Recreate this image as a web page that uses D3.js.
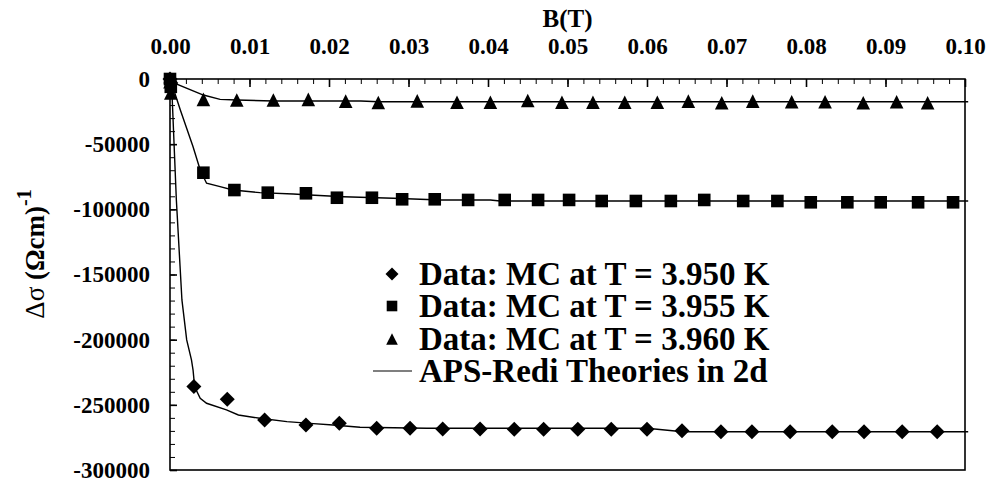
<!DOCTYPE html>
<html>
  <head>
    <title> MC at T near Tc </title>
    <script src = "https://d3js.org/d3.v7.min.js" charset = "utf-8"></script>
    <style>
      body { margin: 0; background: #fff; }
      text { font-family: "Liberation Serif", "Times New Roman", serif; font-weight: bold; }
    </style>
  </head>

  <body>
    <script>
      // data: B in tesla, delta sigma in (ohm cm)^-1
      var diamondB   = [0, 0.0001, 0.0030, 0.0072, 0.0119, 0.0171, 0.0213, 0.0260, 0.0302, 0.0343, 0.0390, 0.0433, 0.0470, 0.0513, 0.0555, 0.0600, 0.0644, 0.0693, 0.0732, 0.0780, 0.0833, 0.0873, 0.0921, 0.0965];
      var diamondVal = [0, -3000, -236000, -245800, -261600, -265500, -264200, -268000, -268000, -268500, -268500, -268800, -268800, -268800, -268800, -268800, -269800, -270600, -270600, -270600, -270600, -270600, -270600, -270600];

      var squareB   = [0, 0.0001, 0.0042, 0.0081, 0.0123, 0.0171, 0.0210, 0.0254, 0.0292, 0.0333, 0.0375, 0.0421, 0.0463, 0.0502, 0.0543, 0.0586, 0.0630, 0.0672, 0.0721, 0.0764, 0.0806, 0.0852, 0.0894, 0.0941, 0.0985];
      var squareVal = [0, -6000, -71900, -85200, -87200, -87700, -91100, -91100, -92300, -92300, -92800, -92800, -92800, -92800, -93600, -93600, -93600, -92800, -93600, -93600, -94600, -94600, -94600, -94600, -94600];

      var triangleB   = [0, 0.0001, 0.0042, 0.0084, 0.0130, 0.0174, 0.0221, 0.0262, 0.0311, 0.0361, 0.0403, 0.0450, 0.0493, 0.0532, 0.0572, 0.0613, 0.0652, 0.0694, 0.0733, 0.0782, 0.0824, 0.0872, 0.0914, 0.0953];
      var triangleVal = [-2000, -10700, -15600, -16100, -16100, -15600, -17000, -18000, -16800, -17800, -17800, -16500, -17800, -17800, -17800, -17800, -17000, -18200, -17000, -17400, -17400, -18200, -17400, -18200];

      // APS-Redi theory curves
      var theoryDiamondB   = [0, 0.0002, 0.0008, 0.0015, 0.0021, 0.0027, 0.0029, 0.0031, 0.0038, 0.0046, 0.0071, 0.0086, 0.0113, 0.0147, 0.0176, 0.0205, 0.0239, 0.0323, 0.0600, 0.0645, 0.1004];
      var theoryDiamondVal = [0, -3300, -92800, -169500, -200200, -215500, -223300, -236100, -245000, -248800, -253900, -257800, -260300, -262900, -264200, -265500, -267200, -268000, -268000, -270600, -270600];

      var theorySquareB   = [0, 0.0002, 0.0013, 0.0029, 0.0038, 0.0046, 0.0063, 0.0079, 0.0113, 0.0155, 0.0176, 0.0218, 0.0281, 0.0340, 0.0403, 0.0415, 0.1004];
      var theorySquareVal = [0, -3300, -23800, -52000, -69800, -80000, -82600, -85200, -87200, -88200, -89000, -90300, -91500, -92800, -92800, -93600, -93600];

      var theoryTriangleB   = [0, 0.0004, 0.0042, 0.0063, 0.0084, 0.0130, 0.0240, 0.0262, 0.1004];
      var theoryTriangleVal = [0, -2800, -12300, -15600, -16100, -16900, -16900, -17400, -17400];

      var xTicks = [0, 0.01, 0.02, 0.03, 0.04, 0.05, 0.06, 0.07, 0.08, 0.09, 0.10];
      var yTicks = [0, -50000, -100000, -150000, -200000, -250000, -300000];

      var legendLabels = ["Data: MC at T = 3.950 K", "Data: MC at T = 3.955 K", "Data: MC at T = 3.960 K", "APS-Redi Theories in 2d"];

      var width = 988;
      var height = 485;
      var plotLeft = 170, plotRight = 965, plotTop = 79, plotBottom = 470;

      var svg = d3.select("body")
        .append("svg")
        .attr("width", width)
        .attr("height", height);

      var x = d3.scaleLinear().domain([0, 0.1]).range([plotLeft, plotRight]);
      var y = d3.scaleLinear().domain([0, -300000]).range([plotTop, plotBottom]);

      // frame
      svg.append("rect")
        .attr("x", plotLeft).attr("y", plotTop)
        .attr("width", plotRight - plotLeft).attr("height", plotBottom - plotTop)
        .attr("fill", "none").attr("stroke", "#000").attr("stroke-width", 1.6);

      // x axis on top, ticks pointing into the plot
      var xMinor = d3.range(0, 0.1001, 0.002);
      svg.append("g")
        .attr("transform", "translate(0," + plotTop + ")")
        .call(d3.axisTop(x).tickValues(xMinor).tickSize(-5).tickSizeOuter(0).tickFormat(""))
        .call(function(g){ g.select(".domain").remove(); });

      var xAxis = svg.append("g")
        .attr("transform", "translate(0," + plotTop + ")")
        .call(d3.axisTop(x).tickValues(xTicks).tickSize(-8).tickSizeOuter(0).tickPadding(25)
          .tickFormat(d3.format(".2f")));
      xAxis.select(".domain").remove();
      xAxis.selectAll(".tick line").attr("stroke-width", 1.6);
      xAxis.selectAll("text").attr("font-size", 23).attr("fill", "#000")
        .style("font-family", "'Liberation Serif', serif").style("font-weight", "bold");

      // y axis
      var yMinor = d3.range(0, -300001, -10000);
      svg.append("g")
        .attr("transform", "translate(" + plotLeft + ",0)")
        .call(d3.axisLeft(y).tickValues(yMinor).tickSize(-5).tickSizeOuter(0).tickFormat(""))
        .call(function(g){ g.select(".domain").remove(); });

      var yAxis = svg.append("g")
        .attr("transform", "translate(" + plotLeft + ",0)")
        .call(d3.axisLeft(y).tickValues(yTicks).tickSize(-7).tickSizeOuter(0).tickPadding(20)
          .tickFormat(function(d){ return String(d); }));
      yAxis.select(".domain").remove();
      yAxis.selectAll(".tick line").attr("stroke-width", 1.6);
      yAxis.selectAll("text").attr("font-size", 23).attr("fill", "#000")
        .style("font-family", "'Liberation Serif', serif").style("font-weight", "bold");

      // axis titles
      svg.append("text")
        .attr("x", x(0.05)).attr("y", 27)
        .attr("text-anchor", "middle")
        .attr("font-size", 25)
        .text("B(T)");

      var yTitle = svg.append("text")
        .attr("transform", "translate(44,254) rotate(-90)")
        .attr("text-anchor", "middle")
        .attr("font-size", 27);
      yTitle.append("tspan").style("font-weight", "normal").text("Δσ");
      yTitle.append("tspan").text(" (Ωcm)");
      yTitle.append("tspan").attr("dy", -13).attr("font-size", 20).text("-1");

      // theory lines
      var line = d3.line()
        .x(function(d){ return x(d[0]); })
        .y(function(d){ return y(d[1]); });

      var theories = [
        d3.zip(theoryDiamondB, theoryDiamondVal),
        d3.zip(theorySquareB, theorySquareVal),
        d3.zip(theoryTriangleB, theoryTriangleVal)
      ];

      svg.append("g").selectAll("path")
        .data(theories)
        .enter()
        .append("path")
        .attr("fill", "none")
        .attr("stroke", "#000")
        .attr("stroke-width", 1.4)
        .attr("d", line);

      // marker shapes (Excel style)
      function diamond(r){ return "M0," + (-r) + "L" + r + ",0L0," + r + "L" + (-r) + ",0Z"; }
      function square(r){ return "M" + (-r) + "," + (-r) + "H" + r + "V" + r + "H" + (-r) + "Z"; }
      function triangle(r){ return "M0," + (-r) + "L" + r + "," + r + "L" + (-r) + "," + r + "Z"; }

      var series = [
        { pts: d3.zip(diamondB, diamondVal), shape: diamond(7.5) },
        { pts: d3.zip(squareB, squareVal), shape: square(6.3) },
        { pts: d3.zip(triangleB, triangleVal), shape: triangle(6.8) }
      ];

      series.forEach(function(s){
        svg.append("g").selectAll("path")
          .data(s.pts)
          .enter()
          .append("path")
          .attr("transform", function(d){ return "translate(" + x(d[0]) + "," + y(d[1]) + ")"; })
          .attr("d", s.shape)
          .attr("fill", "#000");
      });

      // legend
      var legend = svg.append("g");
      var legendShapes = [diamond(6.5), square(5.3), triangle(5.8)];
      var rowY = [274, 306, 339, 371];

      legendShapes.forEach(function(sh, i){
        legend.append("path")
          .attr("transform", "translate(392," + rowY[i] + ")")
          .attr("d", sh)
          .attr("fill", "#000");
      });
      legend.append("line")
        .attr("x1", 373).attr("x2", 412)
        .attr("y1", rowY[3]).attr("y2", rowY[3])
        .attr("stroke", "#000").attr("stroke-width", 1.2);

      legend.selectAll("text")
        .data(legendLabels)
        .enter()
        .append("text")
        .attr("x", 419)
        .attr("y", function(d, i){ return rowY[i] + 11; })
        .attr("font-size", 33)
        .text(function(d){ return d; });
    </script>
  </body>
</html>
